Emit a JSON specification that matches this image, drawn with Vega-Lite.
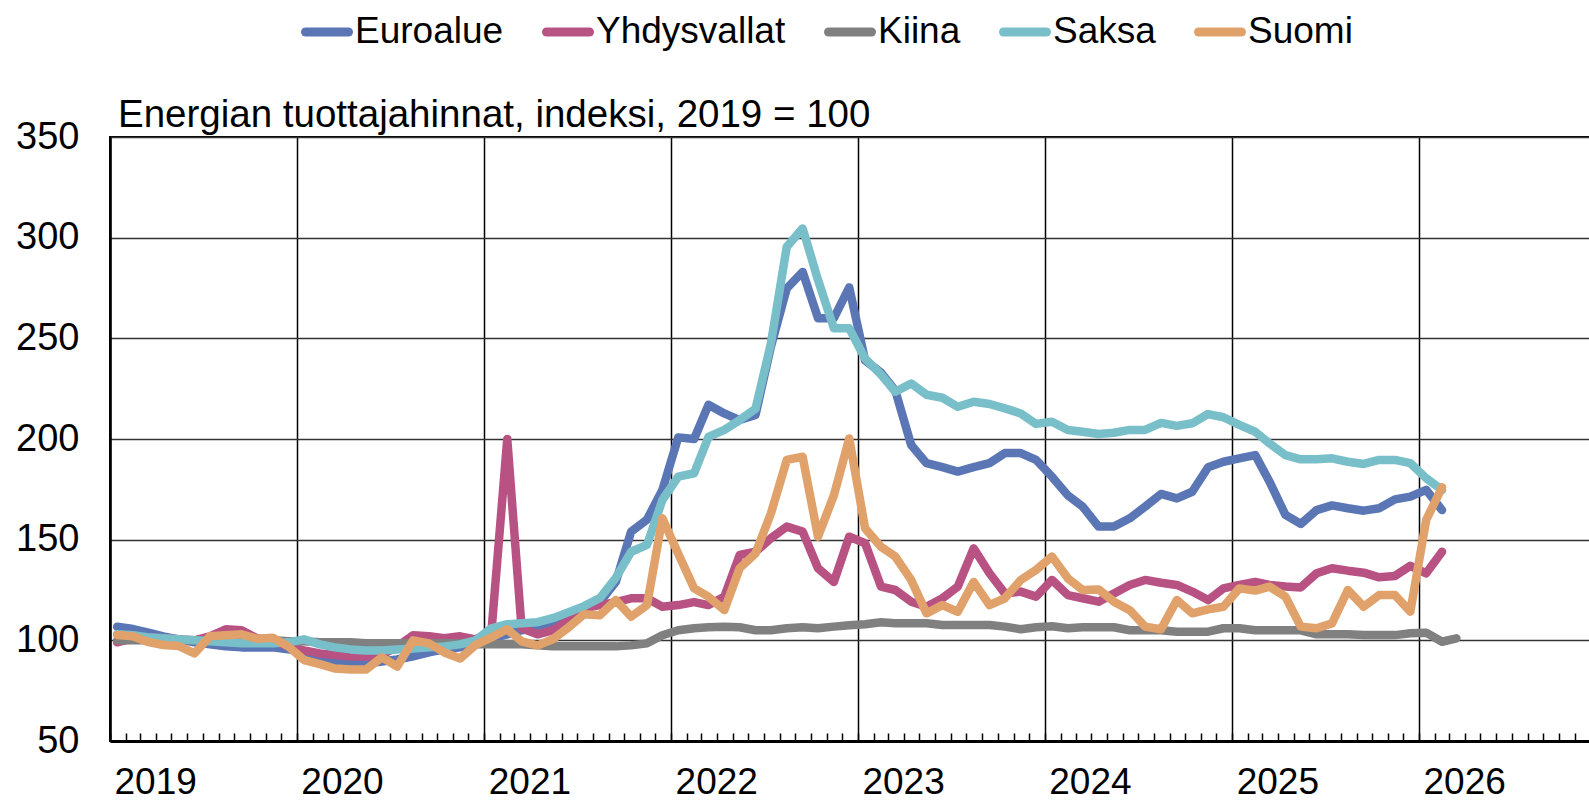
{
"$schema": "https://vega.github.io/schema/vega-lite/v6.json",
"width": 1480, "height": 604,
"autosize": {"type": "none"},
"padding": {"left": 110, "top": 137, "right": 0, "bottom": 62},
"background": "white",
"title": {"text": "Energian tuottajahinnat, indeksi, 2019 = 100", "anchor": "start", "frame": "group", "dx": 8, "dy": 171, "offset": 12, "baseline": "alphabetic", "fontSize": 38.5, "font": "Liberation Sans", "fontWeight": "normal", "color": "black"},
"config": {"view": {"stroke": "black", "strokeWidth": 2}},
"data": {"values": [
{"d":"2019/01/15","Euroalue":106.8,"Yhdysvallat":99,"Kiina":100,"Saksa":103,"Suomi":102.6},
{"d":"2019/02/15","Euroalue":105.6,"Yhdysvallat":101,"Kiina":100,"Saksa":102.5,"Suomi":102},
{"d":"2019/03/15","Euroalue":104,"Yhdysvallat":101.5,"Kiina":100,"Saksa":101.5,"Suomi":99.3},
{"d":"2019/04/15","Euroalue":102,"Yhdysvallat":101,"Kiina":100,"Saksa":101,"Suomi":97.7},
{"d":"2019/05/15","Euroalue":100.5,"Yhdysvallat":100.5,"Kiina":100,"Saksa":100.5,"Suomi":97.2},
{"d":"2019/06/15","Euroalue":99,"Yhdysvallat":100,"Kiina":100,"Saksa":100,"Suomi":93.5},
{"d":"2019/07/15","Euroalue":98,"Yhdysvallat":102,"Kiina":100,"Saksa":99.5,"Suomi":102},
{"d":"2019/08/15","Euroalue":97,"Yhdysvallat":105.5,"Kiina":100,"Saksa":99,"Suomi":102.5},
{"d":"2019/09/15","Euroalue":96.5,"Yhdysvallat":105,"Kiina":100,"Saksa":98.5,"Suomi":103},
{"d":"2019/10/15","Euroalue":96.5,"Yhdysvallat":101,"Kiina":100,"Saksa":98.5,"Suomi":100.8},
{"d":"2019/11/15","Euroalue":96.5,"Yhdysvallat":100,"Kiina":100,"Saksa":98.5,"Suomi":101.3},
{"d":"2019/12/15","Euroalue":95.5,"Yhdysvallat":97,"Kiina":99.5,"Saksa":99,"Suomi":97},
{"d":"2020/01/15","Euroalue":94.5,"Yhdysvallat":95,"Kiina":99.5,"Saksa":100.5,"Suomi":90.2},
{"d":"2020/02/15","Euroalue":92,"Yhdysvallat":93.5,"Kiina":99,"Saksa":98,"Suomi":88.2},
{"d":"2020/03/15","Euroalue":89.5,"Yhdysvallat":92.7,"Kiina":99,"Saksa":96.5,"Suomi":86},
{"d":"2020/04/15","Euroalue":88.5,"Yhdysvallat":92,"Kiina":99,"Saksa":95.5,"Suomi":85.5},
{"d":"2020/05/15","Euroalue":88.5,"Yhdysvallat":92,"Kiina":98.5,"Saksa":95,"Suomi":85.5},
{"d":"2020/06/15","Euroalue":89.5,"Yhdysvallat":92.7,"Kiina":98.5,"Saksa":95,"Suomi":91.5},
{"d":"2020/07/15","Euroalue":90.5,"Yhdysvallat":97,"Kiina":98.5,"Saksa":95.5,"Suomi":87},
{"d":"2020/08/15","Euroalue":92,"Yhdysvallat":102.5,"Kiina":98.5,"Saksa":96,"Suomi":100},
{"d":"2020/09/15","Euroalue":94,"Yhdysvallat":102,"Kiina":98.5,"Saksa":96.5,"Suomi":98.5},
{"d":"2020/10/15","Euroalue":95.5,"Yhdysvallat":101,"Kiina":98.5,"Saksa":97,"Suomi":94},
{"d":"2020/11/15","Euroalue":96.5,"Yhdysvallat":102,"Kiina":98.5,"Saksa":98,"Suomi":91},
{"d":"2020/12/15","Euroalue":98,"Yhdysvallat":100.5,"Kiina":98,"Saksa":100,"Suomi":97.7},
{"d":"2021/01/15","Euroalue":101,"Yhdysvallat":104,"Kiina":98,"Saksa":106,"Suomi":101.5},
{"d":"2021/02/15","Euroalue":103,"Yhdysvallat":200,"Kiina":98,"Saksa":108,"Suomi":105.5},
{"d":"2021/03/15","Euroalue":105,"Yhdysvallat":106,"Kiina":98,"Saksa":108.5,"Suomi":99.5},
{"d":"2021/04/15","Euroalue":107,"Yhdysvallat":103,"Kiina":97.5,"Saksa":109,"Suomi":97.5},
{"d":"2021/05/15","Euroalue":109,"Yhdysvallat":105,"Kiina":97,"Saksa":111,"Suomi":100.5},
{"d":"2021/06/15","Euroalue":112,"Yhdysvallat":110,"Kiina":97,"Saksa":114,"Suomi":106.5},
{"d":"2021/07/15","Euroalue":115,"Yhdysvallat":116,"Kiina":97,"Saksa":117,"Suomi":113},
{"d":"2021/08/15","Euroalue":119,"Yhdysvallat":117.5,"Kiina":97,"Saksa":121,"Suomi":112.5},
{"d":"2021/09/15","Euroalue":129,"Yhdysvallat":119,"Kiina":97,"Saksa":131,"Suomi":120},
{"d":"2021/10/15","Euroalue":154,"Yhdysvallat":120.9,"Kiina":97.5,"Saksa":144,"Suomi":111.8},
{"d":"2021/11/15","Euroalue":160,"Yhdysvallat":120.9,"Kiina":98.5,"Saksa":147.4,"Suomi":117.5},
{"d":"2021/12/15","Euroalue":174.7,"Yhdysvallat":116.7,"Kiina":102.5,"Saksa":169.7,"Suomi":160.6},
{"d":"2022/01/15","Euroalue":200.8,"Yhdysvallat":117.5,"Kiina":105,"Saksa":181.3,"Suomi":143},
{"d":"2022/02/15","Euroalue":200,"Yhdysvallat":119,"Kiina":106,"Saksa":183,"Suomi":125.8},
{"d":"2022/03/15","Euroalue":217,"Yhdysvallat":117.5,"Kiina":106.5,"Saksa":201,"Suomi":121.7},
{"d":"2022/04/15","Euroalue":212.7,"Yhdysvallat":121.7,"Kiina":106.8,"Saksa":204.5,"Suomi":115},
{"d":"2022/05/15","Euroalue":209.4,"Yhdysvallat":142.4,"Kiina":106.5,"Saksa":209.4,"Suomi":135.8},
{"d":"2022/06/15","Euroalue":212,"Yhdysvallat":144,"Kiina":105,"Saksa":215,"Suomi":143.2},
{"d":"2022/07/15","Euroalue":245.9,"Yhdysvallat":150.7,"Kiina":105,"Saksa":247.5,"Suomi":163},
{"d":"2022/08/15","Euroalue":274.8,"Yhdysvallat":156.5,"Kiina":106,"Saksa":295.5,"Suomi":189.6},
{"d":"2022/09/15","Euroalue":283,"Yhdysvallat":154,"Kiina":106.5,"Saksa":304.6,"Suomi":191.2},
{"d":"2022/10/15","Euroalue":260,"Yhdysvallat":135.8,"Kiina":106,"Saksa":279,"Suomi":151.5},
{"d":"2022/11/15","Euroalue":260,"Yhdysvallat":129,"Kiina":106.8,"Saksa":255,"Suomi":172},
{"d":"2022/12/15","Euroalue":275.3,"Yhdysvallat":151.5,"Kiina":107.5,"Saksa":255,"Suomi":200.3},
{"d":"2023/01/15","Euroalue":239,"Yhdysvallat":148.2,"Kiina":108,"Saksa":240,"Suomi":155.6},
{"d":"2023/02/15","Euroalue":233,"Yhdysvallat":126.7,"Kiina":109,"Saksa":232,"Suomi":146.5},
{"d":"2023/03/15","Euroalue":224,"Yhdysvallat":125,"Kiina":108.5,"Saksa":223.5,"Suomi":141.6},
{"d":"2023/04/15","Euroalue":197,"Yhdysvallat":119.2,"Kiina":108.5,"Saksa":227.6,"Suomi":130},
{"d":"2023/05/15","Euroalue":188,"Yhdysvallat":116.7,"Kiina":108.5,"Saksa":222,"Suomi":113.4},
{"d":"2023/06/15","Euroalue":186,"Yhdysvallat":120.9,"Kiina":107.6,"Saksa":220.5,"Suomi":117.5},
{"d":"2023/07/15","Euroalue":183.8,"Yhdysvallat":126.7,"Kiina":107.6,"Saksa":216,"Suomi":114.2},
{"d":"2023/08/15","Euroalue":186,"Yhdysvallat":145.7,"Kiina":107.6,"Saksa":218.5,"Suomi":129},
{"d":"2023/09/15","Euroalue":188,"Yhdysvallat":133.3,"Kiina":107.6,"Saksa":217.4,"Suomi":117.5},
{"d":"2023/10/15","Euroalue":193,"Yhdysvallat":123.3,"Kiina":106.8,"Saksa":215.2,"Suomi":120.9},
{"d":"2023/11/15","Euroalue":193,"Yhdysvallat":124.2,"Kiina":105.5,"Saksa":212.7,"Suomi":130},
{"d":"2023/12/15","Euroalue":189.6,"Yhdysvallat":121.7,"Kiina":106.5,"Saksa":207.5,"Suomi":135},
{"d":"2024/01/15","Euroalue":181.3,"Yhdysvallat":130,"Kiina":107,"Saksa":208.6,"Suomi":141.6},
{"d":"2024/02/15","Euroalue":172,"Yhdysvallat":122.5,"Kiina":106,"Saksa":204.5,"Suomi":130.8},
{"d":"2024/03/15","Euroalue":166.4,"Yhdysvallat":120.9,"Kiina":106.5,"Saksa":203.6,"Suomi":125},
{"d":"2024/04/15","Euroalue":156.5,"Yhdysvallat":119.2,"Kiina":106.5,"Saksa":202.5,"Suomi":125.3},
{"d":"2024/05/15","Euroalue":156.5,"Yhdysvallat":123.3,"Kiina":106.5,"Saksa":203.1,"Suomi":119.2},
{"d":"2024/06/15","Euroalue":160.6,"Yhdysvallat":127.5,"Kiina":105,"Saksa":204.5,"Suomi":115},
{"d":"2024/07/15","Euroalue":166.4,"Yhdysvallat":130,"Kiina":105,"Saksa":204.5,"Suomi":106.8},
{"d":"2024/08/15","Euroalue":172.7,"Yhdysvallat":128.6,"Kiina":105,"Saksa":208,"Suomi":105.5},
{"d":"2024/09/15","Euroalue":170.5,"Yhdysvallat":127.5,"Kiina":104.3,"Saksa":206.5,"Suomi":120},
{"d":"2024/10/15","Euroalue":173.8,"Yhdysvallat":124.2,"Kiina":104.3,"Saksa":207.8,"Suomi":113.4},
{"d":"2024/11/15","Euroalue":186,"Yhdysvallat":120,"Kiina":104.3,"Saksa":212.4,"Suomi":115.4},
{"d":"2024/12/15","Euroalue":188.7,"Yhdysvallat":125.8,"Kiina":106,"Saksa":210.8,"Suomi":116.7},
{"d":"2025/01/15","Euroalue":190.4,"Yhdysvallat":127.5,"Kiina":106,"Saksa":207,"Suomi":125.8},
{"d":"2025/02/15","Euroalue":192,"Yhdysvallat":129,"Kiina":105,"Saksa":203.6,"Suomi":124.7},
{"d":"2025/03/15","Euroalue":178.8,"Yhdysvallat":127.5,"Kiina":105,"Saksa":197.8,"Suomi":126.7},
{"d":"2025/04/15","Euroalue":162.3,"Yhdysvallat":126.7,"Kiina":105,"Saksa":192,"Suomi":121.7},
{"d":"2025/05/15","Euroalue":157.8,"Yhdysvallat":126.3,"Kiina":105,"Saksa":189.9,"Suomi":106.8},
{"d":"2025/06/15","Euroalue":164.7,"Yhdysvallat":133.3,"Kiina":103,"Saksa":189.9,"Suomi":106},
{"d":"2025/07/15","Euroalue":167,"Yhdysvallat":135.8,"Kiina":103,"Saksa":190.4,"Suomi":108.4},
{"d":"2025/08/15","Euroalue":165.6,"Yhdysvallat":134.6,"Kiina":103,"Saksa":188.7,"Suomi":125},
{"d":"2025/09/15","Euroalue":164.4,"Yhdysvallat":133.6,"Kiina":102.6,"Saksa":187.6,"Suomi":116.7},
{"d":"2025/10/15","Euroalue":165.6,"Yhdysvallat":131.3,"Kiina":102.6,"Saksa":189.6,"Suomi":122.5},
{"d":"2025/11/15","Euroalue":170,"Yhdysvallat":132,"Kiina":102.6,"Saksa":189.6,"Suomi":122.5},
{"d":"2025/12/15","Euroalue":171.4,"Yhdysvallat":137,"Kiina":103.5,"Saksa":188,"Suomi":114.2},
{"d":"2026/01/15","Euroalue":174.7,"Yhdysvallat":133.3,"Kiina":103.8,"Saksa":180.5,"Suomi":159.8},
{"d":"2026/02/15","Euroalue":164.7,"Yhdysvallat":144,"Kiina":99.3,"Saksa":174.7,"Suomi":176},
{"d":"2026/03/15","Euroalue":null,"Yhdysvallat":null,"Kiina":101,"Saksa":null,"Suomi":null}
]},
"transform": [
  {"fold": ["Euroalue", "Yhdysvallat", "Kiina", "Saksa", "Suomi"], "as": ["s", "v"]},
  {"filter": "datum.v != null"}
],
"mark": {"type": "line", "strokeWidth": 8.5, "strokeCap": "round", "strokeJoin": "round"},
"encoding": {
  "x": {"field": "d", "type": "temporal",
    "scale": {"domain": [{"year": 2019, "month": 1, "date": 1}, {"year": 2026, "month": 12, "date": 1}]},
    "axis": {"title": null, "tickCount": {"interval": "month", "step": 1},
      "labelExpr": "month(datum.value) == 0 ? timeFormat(datum.value, '%Y') : ''",
      "labelAlign": "left", "labelOffset": 4, "labelPadding": 31, "labelBaseline": "top",
      "labelFont": "Liberation Sans", "labelFontSize": 37, "labelColor": "black",
      "labelOverlap": false, "labelFlush": false, "labelBound": false,
      "tickSize": -8, "tickColor": "black", "tickWidth": 1.5,
      "domainColor": "black", "domainWidth": 3,
      "grid": true, "gridWidth": 1.5,
      "gridColor": {"condition": {"test": "month(datum.value) == 0", "value": "black"}, "value": "transparent"}}},
  "y": {"field": "v", "type": "quantitative",
    "scale": {"domain": [50, 350], "nice": false, "zero": false},
    "axis": {"title": null, "values": [50, 100, 150, 200, 250, 300, 350], "ticks": false,
      "labelPadding": 31, "labelFont": "Liberation Sans", "labelFontSize": 38, "labelColor": "black",
      "domainColor": "black", "domainWidth": 2.5, "grid": true, "gridColor": "#333333", "gridWidth": 1.5}},
  "color": {"field": "s", "type": "nominal",
    "scale": {"domain": ["Euroalue", "Yhdysvallat", "Kiina", "Saksa", "Suomi"],
              "range": ["#5B76B5", "#B85283", "#808080", "#79BFC9", "#E0A26A"]},
    "legend": {"orient": "none", "legendX": 191, "legendY": -131, "direction": "horizontal", "title": null,
      "symbolType": "stroke", "symbolSize": 1849, "symbolStrokeWidth": 9,
      "labelFont": "Liberation Sans", "labelFontSize": 37, "labelColor": "black", "labelOffset": 2,
      "columnPadding": 24, "padding": 0, "labelLimit": 400,
      "encode": {"symbols": {"update": {"strokeCap": {"value": "round"}}}}}}
}
}
